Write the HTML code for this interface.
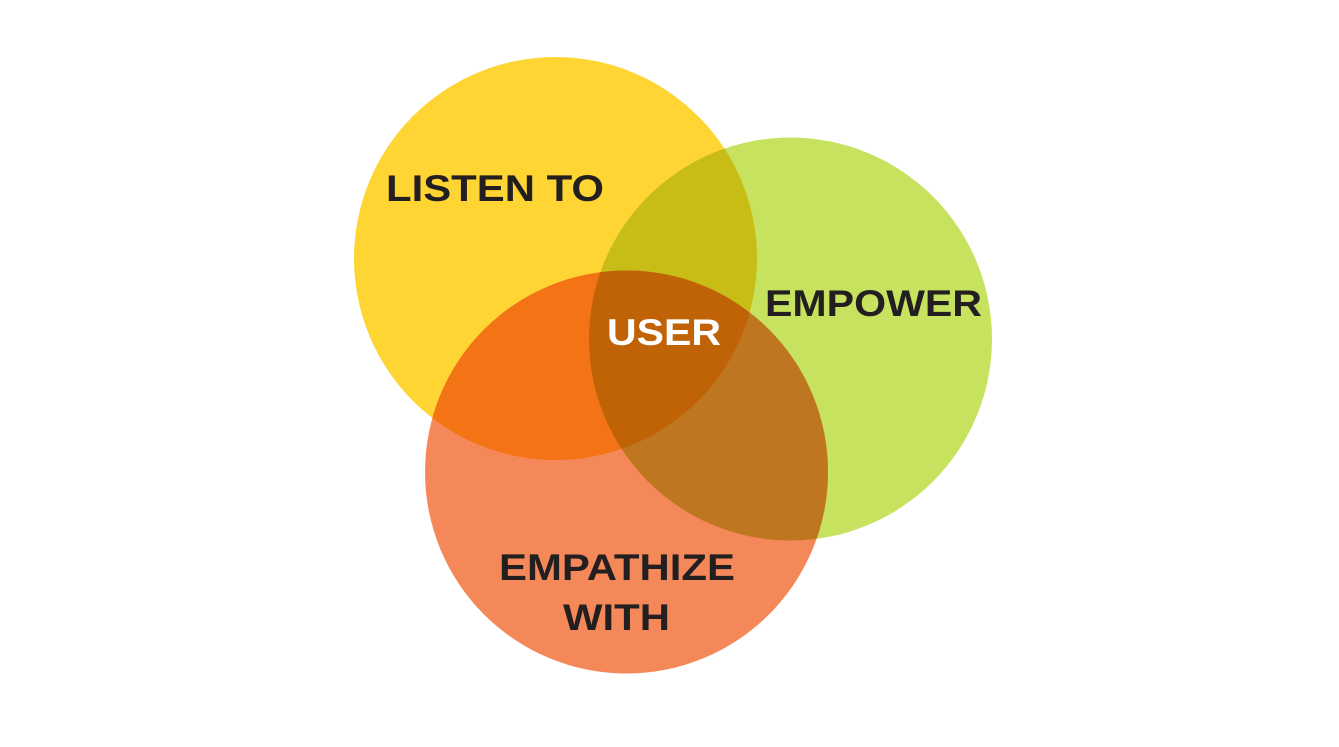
<!DOCTYPE html>
<html><head><meta charset="utf-8"><style>html,body{margin:0;padding:0;background:#fff;}svg{display:block}</style></head>
<body>
<svg width="1339" height="747" viewBox="0 0 1339 747" xmlns="http://www.w3.org/2000/svg">
<defs>
<clipPath id="cy"><circle cx="555.5" cy="258.5" r="201.5"/></clipPath>
<clipPath id="cg"><circle cx="790.5" cy="339" r="201.5"/></clipPath>
<clipPath id="co"><circle cx="626.5" cy="472" r="201.5"/></clipPath>
</defs>
<circle cx="555.5" cy="258.5" r="201.5" fill="#FED533"/>
<circle cx="790.5" cy="339" r="201.5" fill="#C6E25E"/>
<circle cx="626.5" cy="472" r="201.5" fill="#F58859"/>
<g clip-path="url(#cy)"><circle cx="790.5" cy="339" r="201.5" fill="#C8BC17"/><circle cx="626.5" cy="472" r="201.5" fill="#F47314"/></g>
<g clip-path="url(#cg)"><circle cx="626.5" cy="472" r="201.5" fill="#BF7621"/></g>
<g clip-path="url(#cg)"><g clip-path="url(#co)"><circle cx="555.5" cy="258.5" r="201.5" fill="#C06307"/></g></g>
<g font-family="Liberation Sans, Arial, sans-serif" font-weight="bold" font-size="37">
<text x="386" y="201" fill="#231F20" textLength="218" lengthAdjust="spacingAndGlyphs">LISTEN TO</text>
<text x="765" y="316" fill="#231F20" textLength="217" lengthAdjust="spacingAndGlyphs">EMPOWER</text>
<text x="607" y="345" fill="#FFFFFF" textLength="114" lengthAdjust="spacingAndGlyphs">USER</text>
<text x="499" y="580" fill="#231F20" textLength="236" lengthAdjust="spacingAndGlyphs">EMPATHIZE</text>
<text x="563" y="630" fill="#231F20" textLength="107" lengthAdjust="spacingAndGlyphs">WITH</text>
</g>
</svg>
</body></html>
